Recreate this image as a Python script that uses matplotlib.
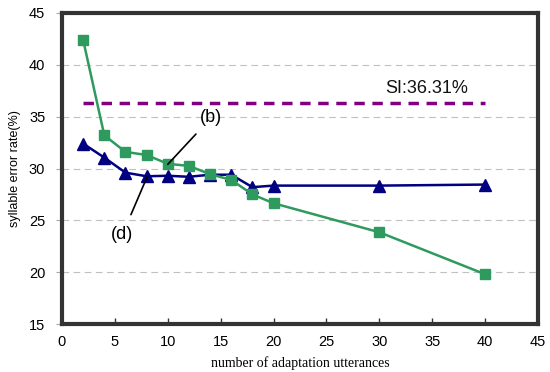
import matplotlib
matplotlib.use("Agg")
import matplotlib.pyplot as plt

# data
utterances = [2, 4, 6, 8, 10, 12, 14, 16, 18, 20, 30, 40]
err_b = [42.4, 33.2, 31.6, 31.3, 30.45, 30.25, 29.45, 28.9, 27.5, 26.65, 23.85, 19.8]
err_d = [32.4, 31.05, 29.6, 29.25, 29.3, 29.2, 29.4, 29.4, 28.2, 28.35, 28.35, 28.45]
si_rate = 36.31
si_span = [2, 40]

green = "#2e9a5e"
navy = "#000080"
purple = "#800080"

fig = plt.figure(figsize=(5.5, 3.72), dpi=100)
ax = fig.add_axes([62 / 550, 1 - 324 / 372, 476 / 550, 311 / 372])

ax.set_xlim(0, 45)
ax.set_ylim(15, 45)
ax.set_xticks(range(0, 46, 5))
ax.set_yticks(range(15, 46, 5))

for y in range(20, 45, 5):
    ax.axhline(y, color="#c0c0c0", lw=0.8, ls=(0, (6, 4)), zorder=0)

ax.plot(si_span, [si_rate, si_rate], color=purple, lw=2.5, ls=(0, (3, 2.2)), zorder=2)
ax.text(30.6, 37.7, "SI:36.31%", fontsize=13, family="Liberation Sans",
        va="center", ha="left", color="#111111")

ax.plot(utterances, err_d, color=navy, lw=1.8, marker="^", ms=8, zorder=3)
ax.plot(utterances, err_b, color=green, lw=1.8, marker="s", ms=7, zorder=4)

ax.annotate("(b)", xy=(10.0, 30.4), xytext=(14.1, 34.9), fontsize=13,
            family="Liberation Sans", ha="center", va="center",
            arrowprops=dict(arrowstyle="-", color="black", lw=1.2,
                            shrinkA=5, shrinkB=0), zorder=5)
ax.annotate("(d)", xy=(8.05, 29.2), xytext=(5.7, 23.6), fontsize=13,
            family="Liberation Sans", ha="center", va="center",
            arrowprops=dict(arrowstyle="-", color="black", lw=1.2,
                            shrinkA=7, shrinkB=0), zorder=5)

for side in ["left", "bottom", "right", "top"]:
    ax.spines[side].set_linewidth(3)
    ax.spines[side].set_color("#333333")

ax.tick_params(axis="x", direction="in", length=4, width=1, colors="#333333",
               labelcolor="black", labelsize=10.5, pad=8)
ax.tick_params(axis="y", direction="out", length=4, width=0.8, colors="#aaaaaa",
               labelcolor="black", labelsize=10.5, pad=8)
for lab in ax.get_xticklabels() + ax.get_yticklabels():
    lab.set_family("Liberation Sans")

ax.set_xlabel("number of adaptation utterances", family="Liberation Serif",
              fontsize=10, labelpad=5)
ax.set_ylabel("syllable error rate(%)", family="Liberation Sans", fontsize=9,
              labelpad=6)

fig.savefig("out.png", dpi=100)
